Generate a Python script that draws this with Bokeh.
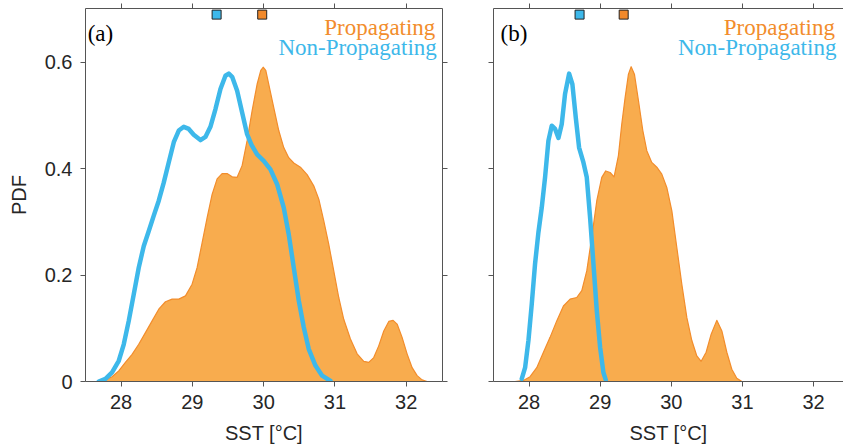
from bokeh.plotting import figure
from bokeh.layouts import row
from bokeh.models import Range1d, LinearAxis, FixedTicker, Label
from bokeh.embed import file_html
from bokeh.resources import INLINE

# ---- data ----
a_prop_x = [27.50, 27.69, 27.78, 27.873, 27.967, 28.060, 28.154, 28.247, 28.341, 28.435, 28.528, 28.622,
            28.715, 28.809, 28.903, 28.996, 29.066, 29.137, 29.207, 29.277, 29.347, 29.417, 29.487,
            29.558, 29.628, 29.698, 29.768, 29.838, 29.908, 29.960, 29.993, 30.030, 30.072, 30.142, 30.212,
            30.282, 30.352, 30.423, 30.516, 30.610, 30.703, 30.774, 30.844, 30.914, 30.984, 31.054,
            31.124, 31.218, 31.312, 31.405, 31.475, 31.545, 31.615, 31.686, 31.756, 31.817, 31.873,
            31.943, 32.013, 32.084, 32.154, 32.224, 32.294]
a_prop_y = [0.000, 0.000, 0.003, 0.009, 0.020, 0.036, 0.051, 0.070, 0.092, 0.114, 0.136, 0.150,
            0.155, 0.155, 0.161, 0.183, 0.214, 0.261, 0.308, 0.352, 0.381, 0.391, 0.391,
            0.385, 0.384, 0.406, 0.453, 0.509, 0.559, 0.585, 0.591, 0.585, 0.559, 0.515, 0.472,
            0.440, 0.421, 0.411, 0.403, 0.389, 0.368, 0.343, 0.302, 0.258, 0.208, 0.158,
            0.117, 0.080, 0.052, 0.038, 0.036, 0.045, 0.067, 0.095, 0.113, 0.115, 0.108,
            0.083, 0.052, 0.026, 0.011, 0.003, 0.000]
a_non_x = [27.686, 27.78, 27.873, 27.967, 28.037, 28.107, 28.177, 28.247, 28.318, 28.388, 28.458, 28.528,
           28.598, 28.668, 28.739, 28.809, 28.879, 28.949, 29.019, 29.113, 29.183, 29.253, 29.323,
           29.394, 29.464, 29.511, 29.558, 29.628, 29.698, 29.768, 29.830, 29.908, 30.001, 30.095,
           30.189, 30.282, 30.352, 30.423, 30.493, 30.563, 30.633, 30.727, 30.821, 30.938]
a_non_y = [0.000, 0.005, 0.017, 0.039, 0.070, 0.114, 0.164, 0.214, 0.255, 0.283, 0.312, 0.340,
           0.374, 0.412, 0.450, 0.472, 0.479, 0.475, 0.464, 0.454, 0.460, 0.479, 0.512,
           0.550, 0.575, 0.579, 0.573, 0.547, 0.506, 0.465, 0.445, 0.427, 0.415, 0.399,
           0.371, 0.327, 0.277, 0.214, 0.152, 0.102, 0.061, 0.030, 0.011, 0.001]

b_prop_x = [27.803, 27.920, 28.014, 28.108, 28.202, 28.295, 28.389, 28.483, 28.577, 28.670, 28.741,
            28.811, 28.881, 28.952, 29.022, 29.078, 29.139, 29.195, 29.256, 29.303, 29.350, 29.397,
            29.435, 29.481, 29.538, 29.599, 29.655, 29.725, 29.796, 29.866, 29.936, 30.007, 30.077,
            30.147, 30.218, 30.288, 30.358, 30.419, 30.489, 30.560, 30.639, 30.710, 30.780, 30.850,
            30.920, 30.991]
b_prop_y = [0.000, 0.002, 0.009, 0.026, 0.055, 0.083, 0.114, 0.142, 0.155, 0.158, 0.171,
            0.208, 0.271, 0.340, 0.384, 0.396, 0.393, 0.385, 0.425, 0.484, 0.534, 0.578,
            0.592, 0.578, 0.528, 0.472, 0.434, 0.412, 0.403, 0.390, 0.365, 0.321, 0.252,
            0.183, 0.120, 0.077, 0.048, 0.038, 0.055, 0.089, 0.115, 0.095, 0.055, 0.023,
            0.006, 0.000]
b_non_x = [27.897, 27.944, 27.991, 28.038, 28.084, 28.131, 28.178, 28.225, 28.272, 28.319, 28.366,
           28.413, 28.459, 28.506, 28.563, 28.609, 28.656, 28.703, 28.764, 28.811, 28.858, 28.905,
           28.952, 28.999, 29.045, 29.078]
b_non_y = [0.005, 0.026, 0.077, 0.146, 0.221, 0.280, 0.327, 0.384, 0.453, 0.481, 0.475,
           0.458, 0.484, 0.541, 0.579, 0.559, 0.497, 0.440, 0.412, 0.384, 0.308, 0.221,
           0.133, 0.064, 0.017, 0.003]

a_means = {"non": 29.34, "prop": 29.98}
b_means = {"non": 28.71, "prop": 29.33}
mean_marker_y = 0.69

x_ticks = [28, 29, 30, 31, 32]
y_ticks = [0, 0.2, 0.4, 0.6]
y_tick_labels = {0: "0", 0.2: "0.2", 0.4: "0.4", 0.6: "0.6"}

ORANGE_FILL = "#F8AC4E"
ORANGE_LINE = "#F28D2C"
ORANGE_MARK = "#F2892A"
BLUE = "#3DB8EA"
AXIS_COL = "#555555"
TXT_COL = "#262626"
SANS = "Liberation Sans"
SERIF = "Liberation Serif"


def style_axis(ax, labels=True, standoff=8, ticks=None):
    ax.axis_line_color = AXIS_COL
    ax.major_tick_line_color = AXIS_COL
    ax.major_tick_in = 0
    ax.major_tick_out = 5
    ax.minor_tick_line_color = None
    if labels:
        ax.major_label_text_font = SANS
        ax.major_label_text_font_size = "20px"
        ax.major_label_text_color = TXT_COL
        ax.major_label_standoff = standoff
    else:
        ax.major_label_overrides = {t: "" for t in ticks}
        ax.major_label_text_font_size = "1px"
        ax.major_label_text_color = None
        ax.major_label_standoff = 0


def make_panel(tag, prop_x, prop_y, non_x, non_y, means, width, x_end, left_border, right_border,
               show_y_labels, show_right, tag_x, txt_x):
    p = figure(width=width, height=446, x_range=Range1d(27.5, x_end), y_range=Range1d(0, 0.7015),
               output_backend="svg", toolbar_location=None,
               min_border_left=left_border, min_border_right=right_border,
               min_border_top=8, min_border_bottom=65)
    p.outline_line_color = None
    p.xgrid.visible = False
    p.ygrid.visible = False
    p.background_fill_color = "white"
    p.border_fill_color = "white"

    p.varea(x=prop_x, y1=0, y2=prop_y, fill_color=ORANGE_FILL, fill_alpha=1.0)
    p.line(prop_x, prop_y, line_color=ORANGE_LINE, line_width=1.2, line_join="round")
    p.line(non_x, non_y, line_color=BLUE, line_width=4.5, line_join="round", line_cap="round")

    p.scatter([means["non"]], [mean_marker_y], marker="square", size=9, fill_color=BLUE,
              line_color="#222222", line_width=1)
    p.scatter([means["prop"]], [mean_marker_y], marker="square", size=9, fill_color=ORANGE_MARK,
              line_color="#222222", line_width=1)

    xa = p.xaxis[0]
    xa.ticker = FixedTicker(ticks=x_ticks)
    style_axis(xa, labels=True, standoff=8)
    xa.axis_label = "SST [°C]"
    xa.axis_label_text_font = SANS
    xa.axis_label_text_font_size = "20px"
    xa.axis_label_text_font_style = "normal"
    xa.axis_label_text_color = TXT_COL
    xa.axis_label_standoff = 10

    ya = p.yaxis[0]
    ya.ticker = FixedTicker(ticks=y_ticks)
    if show_y_labels:
        style_axis(ya, labels=True, standoff=8)
        ya.major_label_overrides = y_tick_labels
        ya.axis_label = "PDF"
        ya.axis_label_text_font = SANS
        ya.axis_label_text_font_size = "20px"
        ya.axis_label_text_font_style = "normal"
        ya.axis_label_text_color = TXT_COL
        ya.axis_label_standoff = 12
    else:
        style_axis(ya, labels=False, ticks=y_ticks)

    top = LinearAxis(ticker=FixedTicker(ticks=x_ticks))
    style_axis(top, labels=False, ticks=x_ticks)
    p.add_layout(top, "above")
    if show_right:
        right = LinearAxis(ticker=FixedTicker(ticks=y_ticks))
        style_axis(right, labels=False, ticks=y_ticks)
        p.add_layout(right, "right")

    p.add_layout(Label(x=tag_x, y=0.654, text=tag, text_font=SERIF, text_font_size="23px",
                       text_color="black", text_align="left", text_baseline="alphabetic"))
    p.add_layout(Label(x=txt_x, y=0.666, text="Propagating", text_font=SERIF, text_font_size="23px",
                       text_color=ORANGE_LINE, text_align="right", text_baseline="alphabetic"))
    p.add_layout(Label(x=txt_x + 0.02, y=0.628, text="Non-Propagating", text_font=SERIF,
                       text_font_size="23px", text_color=BLUE, text_align="right",
                       text_baseline="alphabetic"))
    return p


pa = make_panel("(a)", a_prop_x, a_prop_y, a_non_x, a_non_y, a_means, width=465, x_end=32.51,
                left_border=85, right_border=23, show_y_labels=True, show_right=True,
                tag_x=27.53, txt_x=32.41)
pb = make_panel("(b)", b_prop_x, b_prop_y, b_non_x, b_non_y, b_means, width=378, x_end=32.42,
                left_border=28, right_border=0, show_y_labels=False, show_right=False,
                tag_x=27.60, txt_x=32.30)

layout = row(pa, pb)
open("out.html", "w").write(file_html(layout, INLINE))
